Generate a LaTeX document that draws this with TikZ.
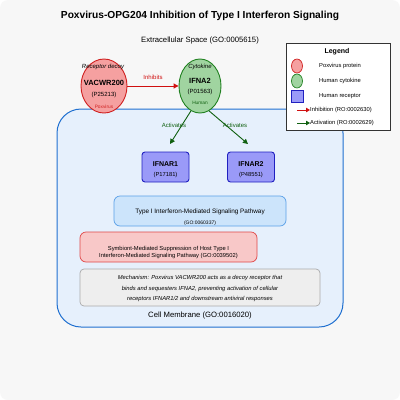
\documentclass[tikz,border=0pt]{standalone}
\usepackage{fontspec}
\setmainfont{Liberation Sans}
\usetikzlibrary{arrows.meta,shapes.geometric}
\definecolor{bg}{HTML}{F7F7F7}
\definecolor{membfill}{HTML}{E6F0FC}
\definecolor{membdraw}{HTML}{2070D0}
\definecolor{poxfill}{HTML}{F5A0A0}
\definecolor{poxdraw}{HTML}{D02020}
\definecolor{cytfill}{HTML}{A0D4A0}
\definecolor{cytdraw}{HTML}{208020}
\definecolor{recfill}{HTML}{9A9AF8}
\definecolor{recdraw}{HTML}{2020C0}
\definecolor{pathfill}{HTML}{CCE4FB}
\definecolor{pathdraw}{HTML}{5AA0E8}
\definecolor{supfill}{HTML}{F8C8C8}
\definecolor{supdraw}{HTML}{E04848}
\definecolor{mechfill}{HTML}{EEEEEE}
\definecolor{mechdraw}{HTML}{AAAAAA}
\definecolor{inhred}{HTML}{D01010}
\definecolor{actgreen}{HTML}{106010}
\tikzset{
  protein/.style={ellipse, minimum width=46pt, minimum height=54pt, inner sep=0pt, line width=0.9pt},
  receptor/.style={rectangle, rounded corners=3pt, minimum width=47pt, minimum height=30pt, fill=recfill, draw=recdraw, line width=0.9pt, inner sep=0pt},
  panel/.style={rectangle, rounded corners=6pt, line width=0.7pt, inner sep=0pt},
  inh/.style={draw=inhred, line width=1pt, -{Triangle[length=5pt,width=5pt]}},
  act/.style={draw=actgreen, line width=0.9pt, -{Triangle[length=5pt,width=5pt]}},
  lbl/.style={inner sep=0pt, font=\fontsize{5.5}{6}\selectfont},
}
\begin{document}
\begin{tikzpicture}[x=1pt,y=-1pt]
\useasboundingbox (0,0) rectangle (400,400);
\fill[white] (0,0) rectangle (400,400);
\fill[bg, rounded corners=8pt] (0,0) rectangle (400,400);
\node[inner sep=0pt, font=\fontsize{10.2}{12}\selectfont\bfseries] (title) at (200,16) {Poxvirus-OPG204 Inhibition of Type I Interferon Signaling};
\node[inner sep=0pt, font=\fontsize{7.7}{9}\selectfont] (extra) at (200,41) {Extracellular Space (GO:0005615)};
% membrane
\draw[fill=membfill, draw=membdraw, line width=1pt, rounded corners=24pt] (57,109) rectangle (343,327);
\node[inner sep=0pt, font=\fontsize{7.7}{9}\selectfont] (memb) at (200,316) {Cell Membrane (GO:0016020)};
% proteins
\node[protein, fill=poxfill, draw=poxdraw] (vac) at (104,86) {};
\node[lbl, font=\fontsize{6}{7}\selectfont\itshape] at (103,67) {Receptor decoy};
\node[lbl, font=\fontsize{7.5}{8}\selectfont\bfseries] at (104,83) {VACWR200};
\node[lbl, font=\fontsize{6}{7}\selectfont] at (104,95) {(P25213)};
\node[lbl, font=\fontsize{4.8}{5}\selectfont, text=poxdraw] at (104,107) {Poxvirus};
\node[protein, minimum width=42pt, fill=cytfill, draw=cytdraw] (ifn) at (200,86) {};
\node[lbl, font=\fontsize{6}{7}\selectfont\itshape] at (200,67) {Cytokine};
\node[lbl, font=\fontsize{7.5}{8}\selectfont\bfseries] at (200,81) {IFNA2};
\node[lbl, font=\fontsize{6}{7}\selectfont] at (200,92) {(P01563)};
\node[lbl, font=\fontsize{4.8}{5}\selectfont, text=actgreen] at (200,103) {Human};
\draw[inh] (vac.east) -- (ifn.west) node[midway, above=6pt, lbl, font=\fontsize{6}{7}\selectfont, text=inhred] {Inhibits};
% receptors
\node[receptor] (r1) at (165.5,167) {};
\node[lbl, font=\fontsize{7}{8}\selectfont\bfseries] at (165.5,164) {IFNAR1};
\node[lbl, font=\fontsize{5.8}{7}\selectfont] at (165.5,175) {(P17181)};
\node[receptor] (r2) at (251,167) {};
\node[lbl, font=\fontsize{7}{8}\selectfont\bfseries] at (251,164) {IFNAR2};
\node[lbl, font=\fontsize{5.8}{7}\selectfont] at (251,175) {(P48551)};
\coordinate (t1) at (170,144);
\coordinate (t2) at (248,144);
\draw[act] (ifn.-110) -- (t1);
\draw[act] (ifn.-70) -- (t2);
\node[lbl, font=\fontsize{6}{7}\selectfont, text=actgreen] (a1) at (174,125) {Activates};
\node[lbl, font=\fontsize{6}{7}\selectfont, text=actgreen] (a2) at (235,125) {Activates};
% pathway boxes
\node[panel, fill=pathfill, draw=pathdraw, minimum width=172pt, minimum height=30pt] (path) at (200,211) {};
\node[lbl, font=\fontsize{6.4}{7}\selectfont] at (200,212) {Type I Interferon-Mediated Signaling Pathway};
\node[lbl, font=\fontsize{5}{6}\selectfont] at (200,223) {(GO:0060337)};
\node[panel, fill=supfill, draw=supdraw, minimum width=177pt, minimum height=30pt] (sup) at (168.5,247) {};
\node[lbl, font=\fontsize{5.8}{7}\selectfont, align=center] at (168.5,252) {Symbiont-Mediated Suppression of Host Type I\\Interferon-Mediated Signaling Pathway (GO:0039502)};
\node[panel, fill=mechfill, draw=mechdraw, minimum width=240pt, minimum height=37pt, rounded corners=4pt] (mech) at (200,287.5) {};
\node[lbl, font=\fontsize{5.8}{10.5}\selectfont\itshape, align=center] at (200,288.5) {Mechanism: Poxvirus VACWR200 acts as a decoy receptor that\\binds and sequesters IFNA2, preventing activation of cellular\\receptors IFNAR1/2 and downstream antiviral responses};
% legend
\draw[fill=white, draw=black!80, line width=0.6pt] (286,43) rectangle (390,130);
\node[lbl, font=\fontsize{7}{8}\selectfont\bfseries] (lt) at (337,52) {Legend};
\node[ellipse, minimum width=11pt, minimum height=14pt, inner sep=0pt, fill=poxfill, draw=poxdraw, line width=0.7pt] (l1) at (297,66) {};
\node[lbl, font=\fontsize{5.8}{7}\selectfont, anchor=west] at (319,66) {Poxvirus protein};
\node[ellipse, minimum width=11pt, minimum height=14pt, inner sep=0pt, fill=cytfill, draw=cytdraw, line width=0.7pt] (l2) at (297,81) {};
\node[lbl, font=\fontsize{5.8}{7}\selectfont, anchor=west] at (319,81) {Human cytokine};
\node[rectangle, minimum width=12pt, minimum height=12pt, inner sep=0pt, fill=recfill, draw=recdraw, line width=0.7pt] (l3) at (297,96) {};
\node[lbl, font=\fontsize{5.8}{7}\selectfont, anchor=west] at (319,96) {Human receptor};
\coordinate (la) at (297,110);
\node[lbl, font=\fontsize{5.8}{7}\selectfont, anchor=west] (li) at (310,110) {Inhibition (RO:0002630)};
\draw[inh, line width=0.9pt, -{Triangle[length=4pt,width=4.5pt]}] (la) -- (li.west);
\coordinate (lb) at (297,123);
\node[lbl, font=\fontsize{5.8}{7}\selectfont, anchor=west] (lg) at (310,123) {Activation (RO:0002629)};
\draw[act, line width=0.9pt, -{Triangle[length=4pt,width=4.5pt]}] (lb) -- (lg.west);
\end{tikzpicture}
\end{document}
